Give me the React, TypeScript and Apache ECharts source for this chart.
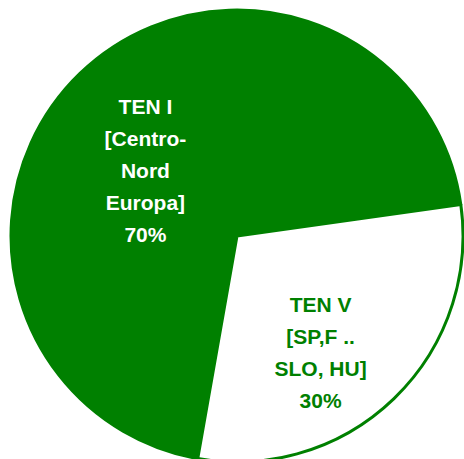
import React, { useEffect, useRef } from "react";
import * as echarts from "echarts";

const categories = ["TEN I\n[Centro-\nNord\nEuropa]", "TEN V\n[SP,F ..\nSLO, HU]"];
const values = [70, 30];
const fillColors = ["#008000", "#ffffff"];
const labelColors = ["#ffffff", "#008000"];
const labelShift = [
  [-11, 18],
  [3, 33],
];

export default function App() {
  const ref = useRef<HTMLDivElement>(null);
  useEffect(() => {
    if (!ref.current) return;
    const chart = echarts.init(ref.current, null, { renderer: "svg" });
    chart.setOption({
      animation: false,
      backgroundColor: "#ffffff",
      series: [
        {
          type: "pie",
          center: [237, 236],
          radius: 226,
          startAngle: 260,
          clockwise: true,
          silent: true,
          avoidLabelOverlap: false,
          label: {
            show: true,
            position: "inside",
            fontFamily: "'Liberation Sans', Arial, sans-serif",
            fontWeight: "bold",
            fontSize: 21,
            lineHeight: 32,
            align: "center",
            formatter: (p: any) => `${p.name}\n${Math.round(p.percent)}%`,
          },
          labelLayout: (p: any) => ({
            dx: labelShift[p.dataIndex][0],
            dy: labelShift[p.dataIndex][1],
          }),
          labelLine: { show: false },
          itemStyle: { borderColor: "#008000", borderWidth: 3 },
          data: categories.map((name, i) => ({
            name,
            value: values[i],
            itemStyle: { color: fillColors[i] },
            label: { color: labelColors[i] },
          })),
        },
      ],
    });
    return () => chart.dispose();
  }, []);
  return (
    <div
      ref={ref}
      style={{ position: "fixed", left: 0, top: 0, width: 464, height: 459 }}
    />
  );
}
